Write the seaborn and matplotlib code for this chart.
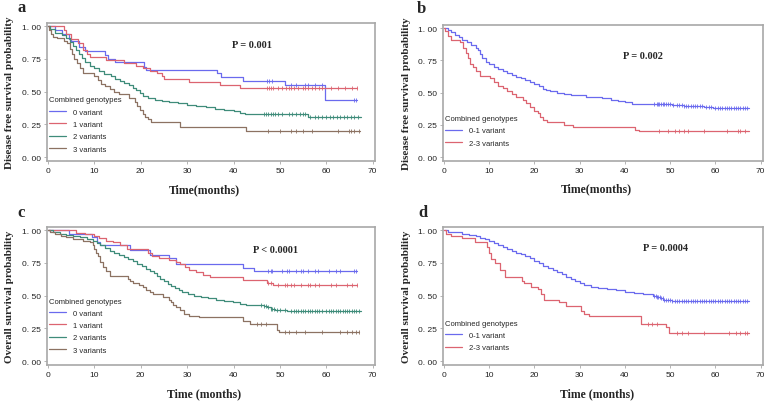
import numpy as np
import matplotlib
matplotlib.use('Agg')
import matplotlib.pyplot as plt
from matplotlib.ticker import FuncFormatter
import seaborn as sns

# ---- panel a : disease free survival, 4 groups ----
a0_time = [0, 1.5, 3, 4.5, 5, 6.8, 7.9, 12.4, 13, 14.4, 20.8, 21.2, 36.5, 37.2, 42, 51, 59.8, 66.7]
a0_surv = [1, .97, .94, .90, .89, .84, .81, .78, .75, .725, .69, .665, .64, .61, .58, .55, .44, .44]
a0_cens = [47.3, 47.7, 48.2, 52.5, 53.5, 55.5, 56, 57.5, 59, 66, 66.5]
a1_time = [0, 3.5, 4, 5, 6.5, 7.5, 8.5, 9, 12.5, 16.5, 19, 20.5, 22, 23.5, 24.5, 25, 30.5, 37, 41.5, 66.7]
a1_surv = [1, .97, .94, .90, .87, .82, .79, .765, .745, .72, .70, .68, .66, .64, .62, .60, .575, .55, .525, .525]
a1_cens = [47.3, 47.7, 48, 48.5, 49.5, 50.5, 51.3, 52, 52.5, 53, 54, 55, 55.5, 56, 57, 57.5, 58.5, 59,
           61, 62.5, 64, 65.5, 66.7]
a2_time = [0, .5, 1.5, 3, 4, 4.7, 5.3, 6, 6.7, 7.3, 8, 9, 10, 11, 12, 13.5, 14.5, 15.5, 16.5, 17.5, 18.3,
           19, 19.8, 20.5, 21.5, 23, 24.5, 26, 28, 30, 32, 34, 36, 38, 40, 41.5, 42.5, 56, 67.5]
a2_surv = [1, .98, .95, .93, .91, .88, .85, .82, .79, .76, .73, .70, .68, .655, .635, .62, .60, .585, .565,
           .55, .53, .51, .49, .47, .455, .44, .43, .42, .41, .40, .39, .38, .37, .36, .35, .34, .33, .31, .31]
a2_cens = [46.5, 47, 47.5, 48, 48.5, 49, 49.5, 50.5, 52, 52.7, 53.5, 54.3, 55, 55.5, 56.5, 57.5, 58.3, 59,
           60, 60.7, 61.5, 62.3, 63, 63.8, 64.5, 65.3, 66, 66.8]
a3_time = [0, .3, .7, 1.2, 2, 3.5, 4.2, 4.7, 5.2, 5.6, 6.2, 7, 7.6, 10, 10.7, 11.5, 12.3, 13.3, 14.3, 15.3,
           17.5, 18.7, 19.3, 19.9, 20.5, 21, 21.6, 22.3, 28.5, 42.8, 67.3]
a3_surv = [1, .97, .94, .92, .91, .89, .87, .83, .79, .75, .72, .68, .64, .62, .59, .56, .54, .52, .50, .48,
           .455, .42, .39, .36, .33, .31, .29, .27, .23, .20, .20]
a3_cens = [47.5, 50, 52.5, 53.5, 55, 57, 62.5, 64.8, 65.3, 66, 67]

# ---- panel b : disease free survival, 2 groups ----
b0_time = [0, .8, 1.5, 2.5, 3.3, 4, 5, 6, 7, 7.6, 8, 8.5, 9.2, 10, 11, 12, 13, 14, 15, 16, 17, 18, 19, 20,
           21, 21.8, 22.5, 23.5, 25, 26.5, 28, 30, 31.5, 33, 35, 37, 38.5, 40, 41.5, 50.5, 53, 57.5, 59.5, 67.5]
b0_surv = [1, .99, .97, .95, .93, .91, .89, .87, .85, .83, .80, .77, .74, .72, .70, .685, .67, .655, .64,
           .625, .61, .60, .585, .57, .55, .53, .52, .51, .50, .49, .485, .48, .47, .465, .455, .445, .435,
           .425, .41, .405, .40, .39, .38, .38]
b0_cens = [46.5, 47, 47.3, 47.6, 48, 48.3, 48.7, 49, 49.5, 50, 50.7, 51.5, 52, 52.5, 53, 53.5, 54, 54.5,
           55, 55.5, 56, 56.5, 57, 58, 58.5, 59, 60, 60.5, 61, 61.5, 62, 62.5, 63, 63.5, 64, 64.5, 65, 65.5,
           66, 66.5, 67]
b1_time = [0, .3, .8, 1.5, 3.5, 4.3, 4.8, 5.3, 5.8, 6.5, 7.2, 8, 10.2, 11, 12, 13, 14, 15, 16, 17.5, 18.2,
           19, 19.8, 20.8, 21.3, 22, 22.7, 26.5, 28.5, 42.2, 43, 67.3]
b1_surv = [1, .98, .94, .91, .89, .85, .81, .77, .72, .70, .67, .63, .61, .58, .55, .535, .51, .49, .47,
           .445, .42, .39, .36, .34, .31, .29, .27, .25, .23, .21, .20, .20]
b1_cens = [47.5, 49.5, 51, 52, 53, 54, 57.5, 62.5, 65, 65.5, 66.5]

# ---- panel c : overall survival, 4 groups ----
c0_time = [0, 4.5, 9.5, 10.5, 11.3, 17.6, 21.9, 26.2, 27.7, 42.1, 44.5, 66.7]
c0_surv = [1, .97, .95, .91, .885, .85, .81, .79, .745, .71, .685, .685]
c0_cens = [47.5, 48, 48.3, 50.5, 51.5, 52, 53.5, 54.5, 55, 56, 57.5, 58.3, 60.5, 62, 63, 66, 66.5]
c1_time = [0, 6, 8, 10, 11, 12.5, 14, 15.5, 17, 21.5, 22.5, 24, 26, 27.5, 28.5, 29.5, 30.5, 32, 33.5, 35,
           42, 47.3, 48.5, 66.7]
c1_surv = [1, .98, .97, .955, .94, .92, .91, .885, .86, .83, .80, .785, .775, .76, .74, .72, .70, .68, .66,
           .645, .62, .60, .585, .585]
c1_cens = [47.5, 48, 49.5, 51, 51.5, 52.5, 53, 54.5, 56, 56.5, 57.5, 58.5, 61, 62, 64.5, 65.5, 66.7]
c2_time = [0, 1, 2.5, 4, 5.5, 7, 8.5, 9.7, 10.5, 11.3, 12.3, 13.3, 14.3, 15.3, 16.3, 17.3, 18.3, 19.3, 20.3,
           21.2, 22, 22.8, 23.5, 24.2, 25, 25.8, 26.5, 27.3, 28.2, 29, 30.2, 31.5, 33, 34.5, 36.3, 38, 39.8,
           41.3, 42.7, 46.5, 47.2, 48, 49, 51.5, 67.5]
c2_surv = [1, .99, .975, .965, .955, .945, .93, .915, .90, .885, .865, .845, .825, .81, .795, .78, .765,
           .745, .725, .705, .69, .67, .65, .63, .61, .59, .575, .555, .54, .525, .51, .50, .49, .48, .47,
           .46, .45, .44, .43, .42, .41, .40, .39, .385, .38]
c2_cens = [46, 46.5, 47, 47.5, 48, 48.3, 48.7, 49.3, 50, 51, 52.5, 53, 53.5, 54, 54.5, 55, 55.5, 56, 56.5,
           57, 57.5, 58, 58.5, 59, 60, 60.5, 61, 61.5, 62, 62.5, 63, 63.5, 64, 64.5, 65, 65.5, 66, 66.5, 67]
c3_time = [0, .5, 1.5, 2.8, 3.9, 5.5, 7.5, 9, 9.7, 10, 10.4, 10.8, 11.3, 11.8, 12.6, 13.3, 17.2, 17.7,
           18.3, 19.7, 20.5, 21.2, 22, 22.6, 24.8, 26.2, 26.6, 26.9, 27.5, 28.4, 29.4, 30.5, 32.5, 42, 43.5,
           49.3, 49.8, 67]
c3_surv = [1, .985, .97, .96, .95, .935, .92, .91, .89, .86, .83, .80, .76, .72, .69, .65, .63, .61, .595,
           .58, .565, .545, .53, .51, .49, .47, .45, .43, .41, .39, .36, .345, .335, .31, .285, .24, .22, .22]
c3_cens = [45, 46, 47, 51, 52, 53.5, 55.5, 59, 63, 64.5, 65.5, 66.5, 67]

# ---- panel d : overall survival, 2 groups ----
d0_time = [0, 1, 2.5, 4, 5.5, 7, 8, 9, 10, 11, 12, 13, 14, 15, 16, 17, 18, 19, 20, 21, 22, 23, 24, 25,
           26, 27, 28, 29, 30, 31, 32.5, 34, 36, 38, 40, 42, 44, 46.2, 47, 47.8, 48.5, 49.5, 50.3, 67.5]
d0_surv = [1, .99, .985, .975, .965, .955, .94, .93, .915, .905, .89, .875, .86, .845, .83, .815, .80, .785,
           .765, .75, .73, .715, .70, .68, .665, .645, .625, .61, .595, .58, .57, .56, .55, .54, .53, .52,
           .51, .50, .49, .48, .47, .465, .46, .46]
d0_cens = [46.5, 46.8, 47.1, 47.4, 47.7, 48, 48.3, 48.6, 49, 49.5, 50, 50.5, 51, 51.5, 52, 52.5, 53, 53.5,
           54, 54.5, 55, 55.5, 56, 56.5, 57, 57.5, 58, 58.5, 59, 59.5, 60, 60.5, 61, 61.5, 62, 62.5, 63,
           63.5, 64, 64.5, 65, 65.5, 66, 66.5, 67]
d1_time = [0, .5, 1.5, 4, 6.8, 9.5, 9.9, 10.4, 11.2, 12.3, 13.4, 17.2, 17.8, 19.3, 20.7, 21.5, 22.2, 25.5,
           27, 30.3, 31, 32.1, 43.5, 49, 49.8, 67.3]
d1_surv = [1, .97, .96, .94, .91, .87, .83, .78, .75, .70, .645, .61, .60, .57, .55, .51, .47, .455, .42,
           .385, .36, .345, .285, .26, .215, .215]
d1_cens = [45, 46, 47, 51.5, 52.5, 54, 57.5, 63, 64.5, 65.5, 66.5, 67]

labels4 = ['0 variant', '1 variant', '2 variants', '3 variants']
labels2 = ['0-1 variant', '2-3 variants']
p_values = ['P = 0.001', 'P = 0.002', 'P < 0.0001', 'P = 0.0004']

BLUE = '#6a6aee'
RED = '#dc6470'
GREEN = '#3f8c7a'
BROWN = '#8c7262'
FRAME = '#a8a8a8'

sns.set_style('white')
plt.rcParams['font.family'] = ['Liberation Sans', 'DejaVu Sans']

fig = plt.figure(figsize=(7.69, 4.02), dpi=100)


def add_axes(left, top, right, bottom):
    W, H = 769.0, 402.0
    return fig.add_axes([left / W, 1 - bottom / H, (right - left) / W, (bottom - top) / H])


def draw_curve(ax, times, surv, cens, color, label):
    sns.lineplot(x=times, y=surv, ax=ax, color=color, lw=0.9, drawstyle='steps-post',
                 estimator=None, sort=False, label=label)
    # censored cases as small ticks on the curve
    idx = np.searchsorted(times, cens, side='right') - 1
    ax.plot(cens, np.array(surv)[idx], '|', color=color, ms=3, mew=0.6)


def style_axes(ax, ylabel, xlabel, ptext, pxy, leg_y):
    ax.set_xlim(-0.2, 70.5)
    ax.set_ylim(-0.03, 1.025)
    ax.set_xticks(range(0, 71, 10))
    ax.set_yticks([0, 0.25, 0.5, 0.75, 1.0])
    ax.yaxis.set_major_formatter(FuncFormatter(lambda v, p: '{:.2f}'.format(v).replace('.', '. ')))
    ax.tick_params(axis='both', labelsize=6, length=2.5, width=0.6, color=FRAME,
                   labelcolor='#222222', pad=2, left=True, bottom=True)
    for sp in ax.spines.values():
        sp.set_color(FRAME)
        sp.set_linewidth(1.2)
    ax.set_ylabel(ylabel, fontfamily='Liberation Serif', fontweight='bold', fontsize=8)
    ax.yaxis.set_label_coords(-0.1, 0.5)
    ax.set_xlabel(xlabel, fontfamily='Liberation Serif', fontweight='bold', fontsize=8.5)
    ax.xaxis.set_label_coords(0.48, -0.16)
    ax.text(pxy[0], pxy[1], ptext, ha='center', va='center', fontfamily='Liberation Serif',
            fontweight='bold', fontsize=7.5)
    ax.legend(loc='upper left', bbox_to_anchor=(0.0, leg_y), frameon=False, title='Combined genotypes',
              title_fontsize=5.5, fontsize=5.5, alignment='left', handlelength=2.3, handletextpad=0.9,
              labelspacing=0.65, borderpad=0.2, borderaxespad=0)


ax_a = add_axes(47, 24, 375, 162)
draw_curve(ax_a, a0_time, a0_surv, a0_cens, BLUE, labels4[0])
draw_curve(ax_a, a1_time, a1_surv, a1_cens, RED, labels4[1])
draw_curve(ax_a, a2_time, a2_surv, a2_cens, GREEN, labels4[2])
draw_curve(ax_a, a3_time, a3_surv, a3_cens, BROWN, labels4[3])
style_axes(ax_a, 'Disease free survival probability', 'Time(months)', p_values[0], (44, 0.86), 0.48)

ax_b = add_axes(443, 26, 763, 162)
draw_curve(ax_b, b0_time, b0_surv, b0_cens, BLUE, labels2[0])
draw_curve(ax_b, b1_time, b1_surv, b1_cens, RED, labels2[1])
style_axes(ax_b, 'Disease free survival probability', 'Time(months)', p_values[1], (44, 0.79), 0.35)

ax_c = add_axes(47, 228, 375, 366)
draw_curve(ax_c, c0_time, c0_surv, c0_cens, BLUE, labels4[0])
draw_curve(ax_c, c1_time, c1_surv, c1_cens, RED, labels4[1])
draw_curve(ax_c, c2_time, c2_surv, c2_cens, GREEN, labels4[2])
draw_curve(ax_c, c3_time, c3_surv, c3_cens, BROWN, labels4[3])
style_axes(ax_c, 'Overall survival probability', 'Time (months)', p_values[2], (49, 0.85), 0.50)

ax_d = add_axes(443, 228, 763, 366)
draw_curve(ax_d, d0_time, d0_surv, d0_cens, BLUE, labels2[0])
draw_curve(ax_d, d1_time, d1_surv, d1_cens, RED, labels2[1])
style_axes(ax_d, 'Overall survival probability', 'Time (months)', p_values[3], (49, 0.87), 0.34)

for letter, x, y in [('a', 18, 12), ('b', 417, 13), ('c', 17, 217), ('d', 418, 217)]:
    fig.text(x / 769.0, 1 - y / 402.0, letter, fontfamily='Liberation Serif', fontweight='bold',
             fontsize=12, va='baseline')

fig.savefig('out.png', dpi=100)
